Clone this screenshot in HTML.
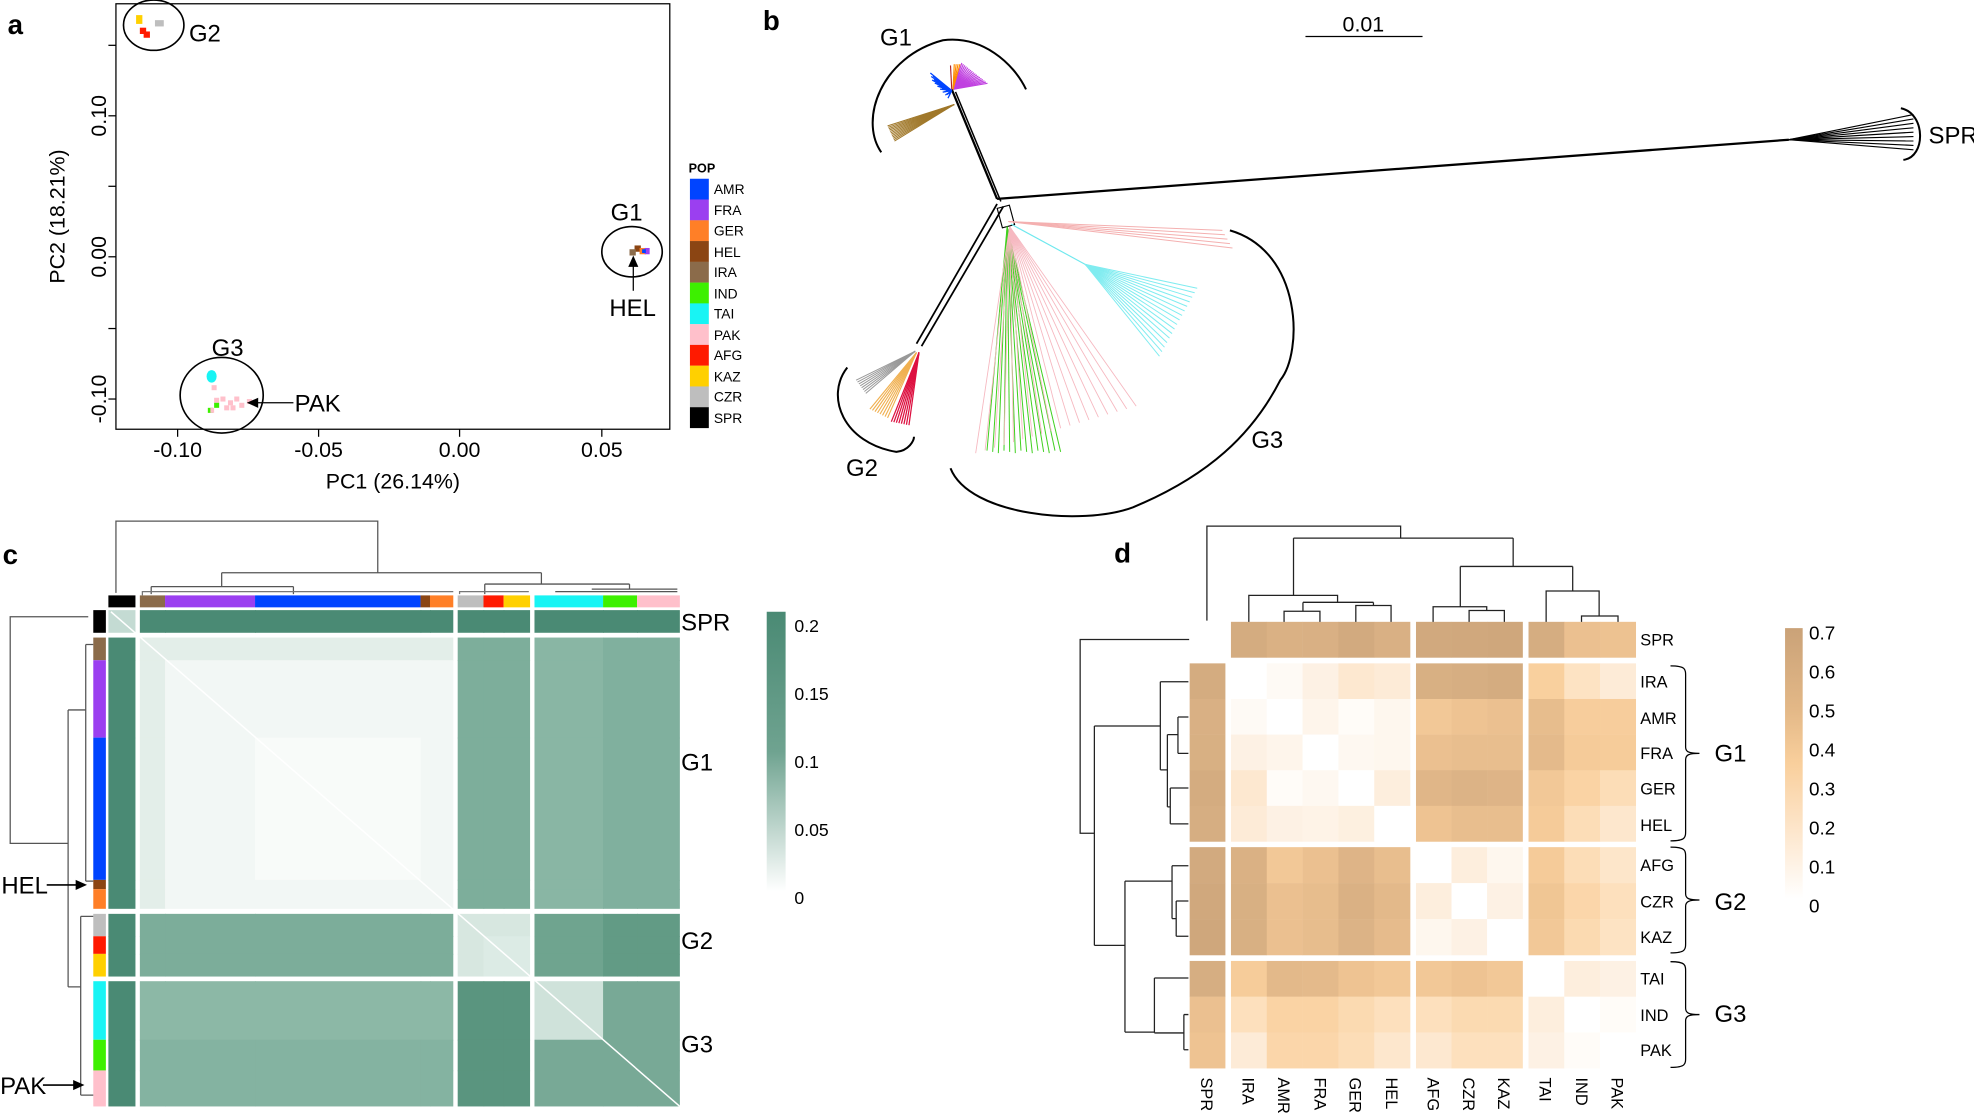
<!DOCTYPE html>
<html><head><meta charset="utf-8"><style>
html,body{margin:0;padding:0;background:#fff;}
svg{display:block;}
text{font-family:"Liberation Sans",sans-serif;fill:#000;}
.n{font-family:"Liberation Sans Narrow","Liberation Sans",sans-serif;}
</style></head><body>
<svg id="s" width="1974" height="1114" viewBox="0 0 1568 885" xmlns="http://www.w3.org/2000/svg">
<defs>
<linearGradient id="gc" x1="0" y1="0" x2="0" y2="1"><stop offset="0" stop-color="#4a8a74"/><stop offset="0.5" stop-color="#6fa390"/><stop offset="1" stop-color="#ffffff"/></linearGradient>
<linearGradient id="gd" x1="0" y1="0" x2="0" y2="1"><stop offset="0" stop-color="#caa278"/><stop offset="0.3" stop-color="#e3b887"/><stop offset="0.5" stop-color="#f9cf9c"/><stop offset="0.75" stop-color="#fde6cc"/><stop offset="1" stop-color="#ffffff"/></linearGradient>
</defs>
<g id="geo"></g>
<text x="6" y="27" font-size="22" font-weight="bold">a</text>
<g font-size="17" text-anchor="middle">
<text x="141" y="363">-0.10</text><text x="253" y="363">-0.05</text><text x="365" y="363">0.00</text><text x="478" y="363">0.05</text>
<text x="312" y="388">PC1 (26.14%)</text>
<text transform="translate(84,92) rotate(-90)">0.10</text>
<text transform="translate(84,204) rotate(-90)">0.00</text>
<text transform="translate(84,317) rotate(-90)">-0.10</text>
<text transform="translate(51,172) rotate(-90)">PC2 (18.21%)</text>
</g>
<g font-size="19" class="n">
<text x="150" y="33">G2</text><text x="485" y="175">G1</text><text x="484" y="251">HEL</text><text x="168" y="283">G3</text><text x="234" y="327">PAK</text>
</g>
<text x="547" y="137" font-size="10" font-weight="bold">POP</text>
<g font-size="11">
<text x="567" y="154">AMR</text><text x="567" y="171">FRA</text><text x="567" y="187">GER</text><text x="567" y="204">HEL</text><text x="567" y="220">IRA</text><text x="567" y="237">IND</text><text x="567" y="253">TAI</text><text x="567" y="270">PAK</text><text x="567" y="286">AFG</text><text x="567" y="303">KAZ</text><text x="567" y="319">CZR</text><text x="567" y="336">SPR</text>
</g>
<text x="606" y="24" font-size="22" font-weight="bold">b</text>
<g font-size="19" class="n">
<text x="1083" y="25" text-anchor="middle" font-size="17">0.01</text>
<text x="699" y="36">G1</text><text x="672" y="378">G2</text><text x="994" y="356">G3</text><text x="1532" y="114">SPR</text>
</g>
<text x="2" y="448" font-size="22" font-weight="bold">c</text>
<g font-size="19" class="n">
<text x="541" y="501">SPR</text><text x="541" y="612">G1</text><text x="541" y="754">G2</text><text x="541" y="836">G3</text>
<text x="1" y="710">HEL</text><text x="0" y="869">PAK</text>
</g>
<g font-size="14"><text x="631" y="502">0.2</text><text x="631" y="556">0.15</text><text x="631" y="610">0.1</text><text x="631" y="664">0.05</text><text x="631" y="718">0</text></g>
<text x="885" y="447" font-size="22" font-weight="bold">d</text>
<g font-size="13">
<text x="1303" y="513">SPR</text><text x="1303" y="546">IRA</text><text x="1303" y="575">AMR</text><text x="1303" y="603">FRA</text><text x="1303" y="631">GER</text><text x="1303" y="660">HEL</text>
<text x="1303" y="692">AFG</text><text x="1303" y="721">CZR</text><text x="1303" y="749">KAZ</text><text x="1303" y="782">TAI</text><text x="1303" y="811">IND</text><text x="1303" y="839">PAK</text>
</g>
<g font-size="13">
<text transform="translate(954,856) rotate(90)">SPR</text>
<text transform="translate(987,856) rotate(90)">IRA</text>
<text transform="translate(1015,856) rotate(90)">AMR</text>
<text transform="translate(1044,856) rotate(90)">FRA</text>
<text transform="translate(1072,856) rotate(90)">GER</text>
<text transform="translate(1101,856) rotate(90)">HEL</text>
<text transform="translate(1134,856) rotate(90)">AFG</text>
<text transform="translate(1162,856) rotate(90)">CZR</text>
<text transform="translate(1190,856) rotate(90)">KAZ</text>
<text transform="translate(1223,856) rotate(90)">TAI</text>
<text transform="translate(1252,856) rotate(90)">IND</text>
<text transform="translate(1280,856) rotate(90)">PAK</text>
</g>
<g font-size="19" class="n"><text x="1362" y="605">G1</text><text x="1362" y="723">G2</text><text x="1362" y="812">G3</text></g>
<g font-size="15"><text x="1437" y="508">0.7</text><text x="1437" y="539">0.6</text><text x="1437" y="570">0.5</text><text x="1437" y="601">0.4</text><text x="1437" y="632">0.3</text><text x="1437" y="663">0.2</text><text x="1437" y="694">0.1</text><text x="1437" y="725">0</text></g>
</svg>
<script>
var G=document.getElementById('geo'),NS='http://www.w3.org/2000/svg';
function el(t,a){var e=document.createElementNS(NS,t);for(var k in a)e.setAttribute(k,a[k]);G.appendChild(e);return e;}
function R(x,y,w,h,f){el('rect',{x:x,y:y,width:w,height:h,fill:f});}
function L(x1,y1,x2,y2,c,w){el('line',{x1:x1,y1:y1,x2:x2,y2:y2,stroke:c||'#000','stroke-width':w||1});}
function P(d,c,w){el('path',{d:d,stroke:c||'#000','stroke-width':w||1.6,fill:'none'});}
el('rect',{x:92,y:3,width:440,height:338,fill:'none',stroke:'#000','stroke-width':1});
[141,253,365,478].forEach(function(x){L(x,341,x,347);});
[36,92,148,204,261,317].forEach(function(y){L(86,y,92,y);});
el('ellipse',{cx:122,cy:20,rx:24,ry:20,fill:'none',stroke:'#000','stroke-width':1.3});
el('ellipse',{cx:502,cy:200,rx:24,ry:20,fill:'none',stroke:'#000','stroke-width':1.3});
el('ellipse',{cx:176,cy:314,rx:33,ry:30,fill:'none',stroke:'#000','stroke-width':1.3});
R(108,12,5,7,'#ffd000');R(123,16,7,5,'#bebebe');R(111,22,5,5,'#ff1a00');R(114,25,5,5,'#ff1a00');
R(504,195,5,5,'#8b4513');R(508,197,5,5,'#ff7f27');R(512,197,4,5,'#9b3ff0');R(510,198,3,3,'#0044ff');R(500,198,5,5,'#8b6b4a');
el('ellipse',{cx:168,cy:299,rx:4,ry:5,fill:'#18f4f4'});
[[168,306],[175,315],[181,318],[186,315],[190,320],[196,317],[200,318],[183,322],[178,322],[170,316]].forEach(function(p){R(p[0],p[1],4,4,'#ffc0cb');});
R(170,320,4,4,'#3df000');R(165,324,4,4,'#3df000');R(167,324,3,4,'#ffc0cb');
L(503,231,503,210);el('path',{d:'M499,212 L503,203 L507,212 Z',fill:'#000'});
L(233,320,203,320);el('path',{d:'M205,316 L196,320 L205,324 Z',fill:'#000'});
var lc=['#0044ff','#9b3ff0','#ff7f27','#8b4513','#8b6b4a','#3df000','#18f4f4','#ffc0cb','#ff1a00','#ffd000','#bebebe','#000000'];
lc.forEach(function(c,i){R(548,142+i*16.5,15,16.6,c);});
L(1037,29,1130,29,'#000',1);
P('M700,121 C682,95 700,45 749,32 C780,28 805,50 815,71');
P('M673,292 C655,315 670,352 712,359 C722,358 726,350 726,347');
P('M977,183 C1035,200 1035,280 1017,302 C995,345 960,378 900,403 C860,418 770,410 755,372');
P('M1510,86 C1530,90 1530,125 1512,127');
L(792,158,1421,111,'#000',1.8);
for(var i=0;i<9;i++){L(1421,111,1520,91+i*3.5,'#000',0.9);}
L(792,158,756,71,'#000',1.8);L(795,160,759,73,'#000',1.2);
for(i=0;i<22;i++){L(756,72,739+i*0.7,58+i*0.8+(i%3)*2,'#0044ff',1);}
for(i=0;i<18;i++){L(757,71,764+i*1.2,50+i*0.95,'#c040e0',0.9);}
for(i=0;i<4;i++){L(757,71,758+i*1.5,51,'#ff8c00',0.9);}
L(756,71,755,52,'#b22222',0.9);
for(i=0;i<12;i++){L(758,83,705+i*0.5,100+i*1.1,'#a0782a',0.8);}
L(792,162,728,273,'#000',1.4);L(797,164,732,275,'#000',1.4);
for(i=0;i<8;i++){L(727,279,680+i*1.1,302+i*1.5,'#999',0.8);}
for(i=0;i<8;i++){L(728,280,691+i*2,325+i*1,'#f0b050',0.9);}
for(i=0;i<8;i++){L(730,280,708+i*2,335+i*0.4,'#dd1040',1);}
el('rect',{x:794,y:164,width:10,height:16,fill:'none',stroke:'#000','stroke-width':0.9,transform:'rotate(-15 799 172)'});
for(i=0;i<5;i++){L(801,176,971+i*2,183+i*3.5,'#f4b0b0',0.8);}
L(803,178,862,210,'#6ee8ee',0.9);
for(i=0;i<16;i++){L(862,210,951-i*2,229+i*3.6,'#80ecf0',0.8);}
for(i=0;i<14;i++){L(800,180,784+i*4.5,358+(i%3),'#40d020',0.8);}
for(i=0;i<18;i++){L(802,180,775+i*7.5,360-i*2.2,'#f6b8c0',0.7);}
var cx=[[86,107.5],[111,131],[131,202.5],[202.5,334],[334,341.5],[341.5,360],[363.5,384],[384,400],[400,421],[424.5,479],[479,506],[506,540]];
var cy=[[484.7,502.7],[506.5,524.5],[524.5,586],[586,699],[699,706.4],[706.4,722],[726,743.8],[743.8,757.8],[757.8,775.8],[779.5,826],[826,850.4],[850.4,879]];
var pc=['#000','#8b6b4a','#9b3ff0','#0044ff','#8b4513','#ff7f27','#bebebe','#ff1a00','#ffd000','#18f4f4','#3df000','#ffc0cb'];
var grp=[0,1,1,1,1,1,2,2,2,3,3,3];
function cc(r,c){
 if(r==0&&c==0)return '#c4dbd3';
 if(r==0||c==0)return '#4a8a74';
 var gr=grp[r],gc=grp[c];
 if(gr==1&&gc==1){ if(r==1||c==1)return '#e3eee9'; if(r==3&&c==3)return '#f8fbf9'; return '#f2f7f5';}
 if(gr==2&&gc==2)return (r==6||c==6)?'#d7e7e0':'#dcebe5';
 if(gr==3&&gc==3){ if(r==9&&c==9)return '#cfe2da'; return '#78a996';}
 if(gr==1&&gc==2)return '#7dae9b';
 if(gr==1&&gc==3)return c==9?'#89b6a4':'#80b09e';
 if(gr==2&&gc==1)return '#7cad9a';
 if(gr==2&&gc==3)return c==9?'#6fa48f':'#629b85';
 if(gr==3&&gc==1)return r==9?'#8cb8a6':'#84b3a1';
 if(gr==3&&gc==2)return '#5a957f';
 return '#80b09e';}
for(var r=0;r<12;r++)for(var c=0;c<12;c++){var w=cx[c][1]-cx[c][0],h=cy[r][1]-cy[r][0];var wa=(c<11&&grp[c]==grp[c+1])?0.6:0,ha=(r<11&&grp[r]==grp[r+1])?0.6:0;R(cx[c][0],cy[r][0],w+wa,h+ha,cc(r,c));}
L(88,486,540,879,'#fff',1.2);
for(i=0;i<12;i++){R(cx[i][0],473,cx[i][1]-cx[i][0],9.5,pc[i]);R(74,cy[i][0],10,cy[i][1]-cy[i][0],pc[i]);}
P('M92,471 L92,414 L300,414 L300,455','#555',1);
P('M176,455 L430,455','#555',1);
P('M176,455 L176,466 M120,466 L233,466 M120,466 L120,472 M233,466 L233,472','#555',1);
P('M430,455 L430,464 M385,464 L500,464 M385,464 L385,472 M500,464 L500,468 M470,468 L538,468 M441,470 L538,470','#555',1);
P('M113,473 L113,470 L360,470','#777',1);P('M365,472 L365,470 L420,470','#777',1);
P('M70,490 L8,490 L8,670 L54,670','#555',1);
P('M54,564 L54,784 M54,564 L68,564 M68,512 L68,700 M54,784 L64,784 M64,728 L64,770 M64,828 L64,870 M64,770 L64,870','#555',1);
P('M68,512 L74,512 M68,700 L74,700 M64,728 L74,728 M64,870 L74,870','#555',1);
L(37,703,62,703,'#000',1.3);el('path',{d:'M60,699 L69,703 L60,707 Z',fill:'#000'});
L(34,862,60,862,'#000',1.3);el('path',{d:'M58,858 L67,862 L58,866 Z',fill:'#000'});
R(609,486,15,222,'url(#gc)');
var dx=[[945,973.2]];for(i=0;i<5;i++)dx.push([977.8+i*28.46,977.8+(i+1)*28.46]);for(i=0;i<3;i++)dx.push([1124.8+i*28.23,1124.8+(i+1)*28.23]);for(i=0;i<3;i++)dx.push([1214.2+i*28.4,1214.2+(i+1)*28.4]);
var dy=[[494,522.3]];for(i=0;i<5;i++)dy.push([527+i*28.3,527+(i+1)*28.3]);for(i=0;i<3;i++)dy.push([673+i*28.57,673+(i+1)*28.57]);for(i=0;i<3;i++)dy.push([763.4+i*28.4,763.4+(i+1)*28.4]);
var M=[
[null,.62,.56,.57,.63,.57,.64,.65,.66,.61,.42,.41],
[.62,0,.03,.08,.14,.12,.58,.60,.62,.30,.18,.12],
[.57,.03,0,.06,.02,.05,.36,.40,.42,.45,.32,.32],
[.58,.08,.06,0,.04,.05,.42,.44,.44,.47,.34,.33],
[.62,.14,.02,.04,0,.10,.50,.54,.52,.36,.28,.22],
[.60,.12,.08,.07,.09,0,.40,.44,.44,.34,.22,.15],
[.63,.56,.36,.42,.52,.44,0,.10,.05,.34,.22,.16],
[.65,.58,.42,.45,.56,.48,.10,0,.08,.38,.26,.20],
[.66,.58,.42,.45,.54,.46,.05,.08,0,.36,.24,.18],
[.60,.33,.48,.47,.40,.36,.36,.40,.36,0,.10,.08],
[.42,.20,.28,.28,.24,.20,.20,.24,.24,.10,0,.02],
[.40,.12,.26,.26,.22,.15,.14,.20,.20,.08,.02,0]];
var st=[[0,[255,255,255]],[.1,[253,238,221]],[.2,[253,224,189]],[.3,[249,208,158]],[.4,[238,195,146]],[.5,[224,182,136]],[.6,[214,174,130]],[.7,[202,162,120]]];
function col(v){for(var k=0;k<st.length-1;k++){if(v<=st[k+1][0]){var t=(v-st[k][0])/(st[k+1][0]-st[k][0]);var a=st[k][1],b=st[k+1][1];return 'rgb('+[0,1,2].map(function(j){return Math.round(a[j]+(b[j]-a[j])*t);}).join(',')+')';}}return 'rgb(202,162,120)';}
for(r=0;r<12;r++)for(c=0;c<12;c++){if(r==0&&c==0)continue;R(dx[c][0],dy[r][0],dx[c][1]-dx[c][0]+0.2,dy[r][1]-dy[r][0]+0.2,col(M[r][c]));}
R(1418,499,14,215,'url(#gd)');
var D='M958.7,493 L958.7,418 L1112.6,418 L1112.6,427.5 M1027.5,427.5 L1202,427.5 M1027.5,427.5 L1027.5,473 M1202,427.5 L1202,450 '+
'M1160,450 L1249.3,450 M1160,450 L1160,482 M1249.3,450 L1249.3,469.5 '+
'M992,494 L992,473 L1062.5,473 L1062.5,478.5 M1035,478.5 L1091,478.5 M1035,478.5 L1035,485.6 M1020,494 L1020,485.6 L1048.5,485.6 L1048.5,494 M1091,478.5 L1091,481 M1077,494 L1077,481 L1105,481 L1105,494 '+
'M1138.4,494 L1138.4,482 L1181,482 L1181,485 M1167,494 L1167,485 L1195,485 L1195,494 '+
'M1228.2,494 L1228.2,469.5 L1270.3,469.5 L1270.3,489.4 M1256.3,494 L1256.3,489.4 L1285.3,489.4 L1285.3,494 '+
'M944.6,508 L858,508 L858,662 L869.3,662 M869.3,576.8 L869.3,751 M869.3,576.8 L921.7,576.8 M921.7,541.6 L921.7,611.6 M921.7,541.6 L944,541.6 M921.7,611.6 L927.3,611.6 M927.3,583.6 L927.3,641 M927.3,583.6 L935.7,583.6 M935.7,569.6 L935.7,598.5 M935.7,569.6 L944,569.6 M935.7,598.5 L944,598.5 M927.3,641 L929.6,641 M929.6,626 L929.6,654.5 M929.6,626 L944,626 M929.6,654.5 L944,654.5 '+
'M869.3,751 L893.6,751 M893.6,700 L893.6,820 M893.6,700 L931,700 M931,687.8 L931,729.8 M931,687.8 L944,687.8 M931,729.8 L934.3,729.8 M934.3,715.8 L934.3,743.8 M934.3,715.8 L944,715.8 M934.3,743.8 L944,743.8 M893.6,820 L917,820 M917,777 L917,820.6 M917,777 L944,777 M917,820.6 L940.4,820.6 M940.4,806 L940.4,834 M940.4,806 L944,806 M940.4,834 L944,834';
P(D,'#222',1);
function br(y1,y2){var m=(y1+y2)/2;P('M1327,'+y1+' C1340,'+y1+' 1339,'+(y1+3)+' 1339,'+(y1+10)+' L1339,'+(m-5)+' C1339,'+(m-1)+' 1342,'+m+' 1350,'+m+' M1350,'+m+' C1342,'+m+' 1339,'+(m+1)+' 1339,'+(m+5)+' L1339,'+(y2-10)+' C1339,'+(y2-3)+' 1340,'+y2+' 1327,'+y2,'#000',1);}
br(529,668);br(673,757);br(764,848);
</script>
</body></html>
